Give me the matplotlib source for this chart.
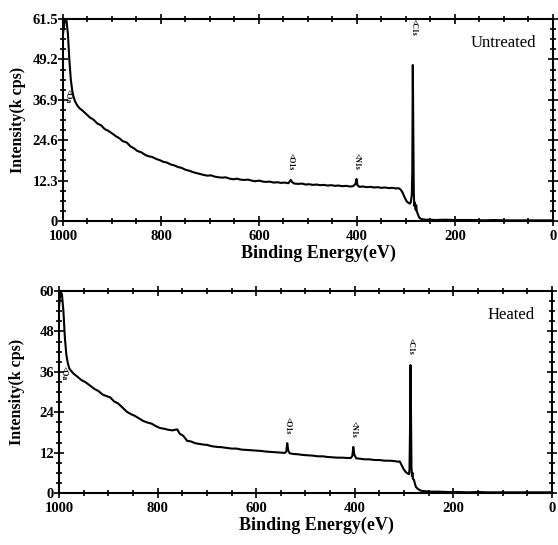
import numpy as np
import matplotlib
matplotlib.use('Agg')
import matplotlib.pyplot as plt
from matplotlib.ticker import MultipleLocator

plt.rcParams['font.family'] = ['Liberation Serif', 'DejaVu Serif']

# Untreated survey spectrum (binding energy eV, intensity k cps)
energy_untreated = [1000, 996, 993, 990, 987, 984, 981, 978, 975, 971, 966, 960, 952, 945, 938,
                    930, 922, 915, 908, 900, 892, 885, 878, 870, 862, 855, 848, 840, 832, 825,
                    818, 810, 802, 795, 788, 780, 772, 765, 758, 750, 742, 735, 728, 720, 712,
                    705, 698, 690, 682, 675, 668, 660, 652, 645, 638, 630, 622, 615, 608, 600,
                    592, 585, 578, 570, 562, 555, 548, 540, 537, 535, 532, 528, 520, 512, 505,
                    498, 490, 482, 475, 468, 460, 452, 445, 438, 430, 422, 415, 408, 403, 401,
                    399, 395, 388, 380, 372, 365, 358, 350, 342, 335, 328, 320, 315, 311, 307,
                    303, 299, 295, 292, 290, 288, 287, 286, 285, 284, 283, 282, 281, 280, 279,
                    278, 276, 274, 272, 270, 265, 260, 250, 240, 220, 200, 180, 160, 140, 120,
                    100, 80, 60, 40, 20, 0]
intensity_untreated = [57.0, 61.5, 61.2, 57.0, 49.0, 43.0, 39.5, 37.6, 36.3, 35.2, 34.3, 33.6, 32.5, 31.5, 30.9,
                       29.7, 29.1, 28.0, 27.5, 26.7, 25.8, 25.2, 24.3, 23.9, 22.7, 22.1, 21.3, 20.9, 20.1, 19.7,
                       19.5, 18.9, 18.5, 18.0, 17.8, 17.2, 16.9, 16.4, 16.2, 15.6, 15.3, 14.9, 14.6, 14.3, 14.0,
                       13.8, 13.9, 13.5, 13.3, 13.2, 13.3, 12.9, 12.7, 12.9, 12.6, 12.5, 12.6, 12.3, 12.1, 12.3,
                       12.0, 11.9, 12.0, 11.7, 11.8, 11.6, 11.7, 11.5, 12.1, 12.5, 11.8, 11.4, 11.3, 11.4, 11.1,
                       11.2, 11.0, 11.1, 10.9, 11.0, 10.8, 10.9, 10.7, 10.8, 10.6, 10.7, 10.5, 10.6, 11.3, 12.8,
                       10.9, 10.4, 10.5, 10.3, 10.4, 10.2, 10.3, 10.1, 10.2, 10.0, 10.1, 9.9, 10.0, 9.6, 8.7,
                       7.3, 6.1, 5.5, 5.3, 5.8, 8.0, 15.0, 47.5, 30.0, 9.0, 4.6, 5.6, 4.2, 3.4, 4.8,
                       3.0, 2.2, 1.4, 0.9, 0.7, 0.5, 0.4, 0.4, 0.3, 0.4, 0.3, 0.3, 0.3, 0.2, 0.3,
                       0.2, 0.2, 0.2, 0.2, 0.2, 0.2]

# Heated survey spectrum
energy_heated = [1000, 997, 994, 991, 988, 985, 982, 979, 975, 970, 963, 955, 946, 937, 928,
                 920, 912, 904, 896, 888, 880, 872, 862, 855, 846, 838, 829, 820, 812, 804,
                 795, 787, 779, 770, 764, 760, 755, 748, 740, 732, 724, 716, 708, 700, 690,
                 680, 670, 660, 650, 640, 630, 620, 610, 600, 590, 580, 570, 560, 550, 542,
                 539, 537, 535, 532, 525, 515, 505, 495, 485, 475, 465, 455, 445, 435, 425,
                 415, 408, 405, 403, 401, 397, 390, 380, 370, 360, 350, 340, 330, 320, 313,
                 309, 305, 301, 297, 293, 290, 289, 288, 287, 286, 285, 284, 283, 282, 280,
                 278, 276, 274, 270, 266, 262, 255, 245, 230, 210, 190, 170, 150, 130, 110,
                 90, 70, 50, 30, 10, 0]
intensity_heated = [55.0, 60.0, 59.0, 54.0, 46.0, 41.0, 38.5, 37.0, 36.2, 35.4, 34.6, 33.6, 32.9, 31.9, 30.9,
                    30.3, 29.3, 28.8, 28.4, 27.2, 26.6, 25.5, 24.1, 23.5, 22.9, 22.2, 21.4, 20.9, 20.6, 19.9,
                    19.3, 19.1, 18.8, 18.6, 18.8, 18.9, 17.6, 17.0, 15.5, 15.3, 14.8, 14.6, 14.4, 14.3, 13.9,
                    13.7, 13.6, 13.4, 13.2, 13.2, 12.9, 12.8, 12.7, 12.6, 12.5, 12.3, 12.2, 12.1, 12.0, 11.9,
                    12.3, 14.8, 12.6, 11.8, 11.6, 11.5, 11.3, 11.2, 11.1, 10.9, 10.9, 10.7, 10.6, 10.5, 10.5,
                    10.4, 10.4, 11.0, 13.7, 11.4, 10.3, 10.2, 10.0, 10.0, 9.8, 9.8, 9.6, 9.6, 9.5, 9.3,
                    9.4, 8.3, 7.1, 6.3, 5.8, 5.6, 7.0, 18.0, 38.0, 24.0, 7.5, 5.0, 6.0, 4.2, 3.9,
                    2.8, 1.8, 1.5, 1.0, 0.7, 0.6, 0.5, 0.4, 0.4, 0.3, 0.3, 0.2, 0.3, 0.2, 0.2,
                    0.2, 0.2, 0.2, 0.2, 0.2, 0.2]

# peak markers: (label, energy, height of label base)
peaks_untreated = [('C1s', 285, 56.5), ('O1s', 535, 15.5), ('N1s', 401, 15.5), ('Oa', 990, 36.0)]
peaks_heated = [('C1s', 287, 41.0), ('O1s', 537, 17.5), ('N1s', 403, 16.5), ('Oa', 990, 33.5)]

yticks_untreated = [0, 12.3, 24.6, 36.9, 49.2, 61.5]
yticks_heated = [0, 12, 24, 36, 48, 60]

fig = plt.figure(figsize=(5.58, 5.45), dpi=100)
ax1 = fig.add_axes([0.1129, 0.5945, 0.878, 0.3706])
ax2 = fig.add_axes([0.1057, 0.0954, 0.8835, 0.3706])


def style_axes(ax, yticks, ymax, yminor, title, energy, intensity, peaks, ylab_x, xlab_y):
    ax.plot(energy, intensity, color='black', linewidth=1.5)
    ax.set_xlim(1000, 0)
    ax.set_ylim(0, ymax)
    ax.set_xticks([1000, 800, 600, 400, 200, 0])
    ax.set_yticks(yticks)
    ax.set_yticklabels([('%g' % t) for t in yticks])
    ax.xaxis.set_minor_locator(MultipleLocator(50))
    ax.yaxis.set_minor_locator(MultipleLocator(yminor))
    ax.tick_params(which='both', direction='inout', top=True, right=True, width=1.2)
    ax.tick_params(which='major', length=7, labelsize=10.5)
    ax.tick_params(which='minor', length=5)
    ax.tick_params(axis='x', pad=3)
    ax.tick_params(axis='y', pad=0)
    for lab in ax.get_xticklabels() + ax.get_yticklabels():
        lab.set_fontweight('bold')
    for sp in ax.spines.values():
        sp.set_linewidth(1.5)
    ax.set_xlabel('Binding Energy(eV)', fontsize=13, fontweight='bold')
    ax.set_ylabel('Intensity(k cps)', fontsize=11.5, fontweight='bold')
    ax.xaxis.set_label_coords(0.522, xlab_y)
    ax.yaxis.set_label_coords(ylab_x, 0.5)
    ax.text(0.965, 0.88, title, transform=ax.transAxes, ha='right', va='center', fontsize=12)
    for name, e, h in peaks:
        ax.text(e, h, '<' + name, rotation=-90, ha='center', va='bottom',
                fontsize=5.5, fontweight='bold')


style_axes(ax1, yticks_untreated, 61.5, 3.075, 'Untreated',
           energy_untreated, intensity_untreated, peaks_untreated, -0.076, -0.115)
style_axes(ax2, yticks_heated, 60, 3, 'Heated',
           energy_heated, intensity_heated, peaks_heated, -0.068, -0.115)

fig.savefig('out.png', dpi=100)
